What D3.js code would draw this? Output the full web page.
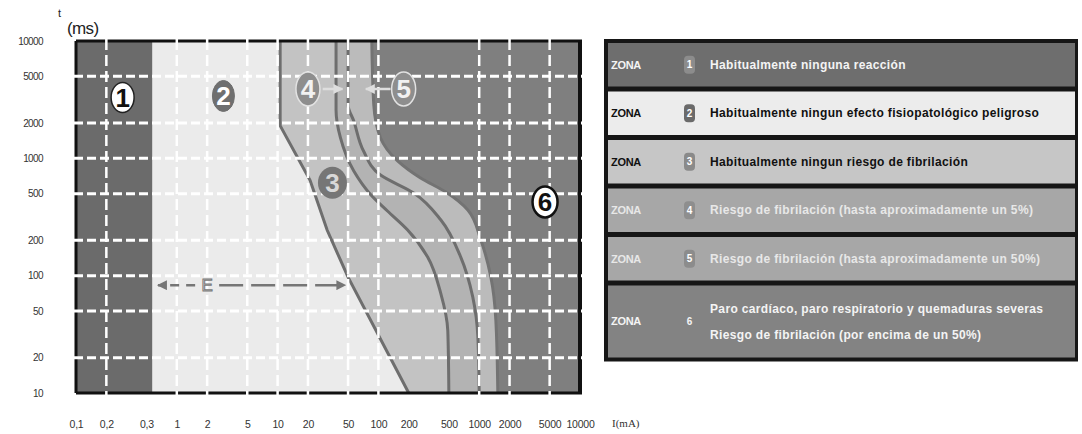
<!DOCTYPE html>
<html>
<head>
<meta charset="utf-8">
<script src="https://cdn.jsdelivr.net/npm/d3@7"></script>
<style>
  body { margin: 0; background: #fff; }
  svg { display: block; font-family: "Liberation Sans", Arial, sans-serif; }
  .axis text { font-family: "Liberation Sans", Arial, sans-serif; fill: #333; }
  .y-axis text { font-size: 10px; letter-spacing: -0.6px; }
  .x-axis text { font-size: 10.5px; letter-spacing: -0.2px; }
  .badge-text { font-weight: bold; font-size: 26px; text-anchor: middle; }
  .legend-text { font-weight: bold; font-size: 12px; letter-spacing: 0.35px; }
</style>
</head>
<body>
<svg id="chart" width="1082" height="434"></svg>
<script>
// axis ticks
const X_TICKS = [0.1, 0.2, 0.5, 1, 2, 5, 10, 20, 50, 100, 200, 500, 1000, 2000, 5000, 10000];
const X_LABELS = ["0,1", "0,2", "0,3", "1", "2", "5", "10", "20", "50", "100", "200", "500", "1000", "2000", "5000", "10000"];
const Y_TICKS = [10, 20, 50, 100, 200, 500, 1000, 2000, 5000, 10000];
const X_GRID = [0.2, 1, 2, 5, 10, 20, 50, 100, 1000, 2000, 5000];
const Y_GRID = [20, 50, 100, 200, 500, 1000, 2000, 5000];

// zone limits: [current mA, time ms]
const ZONE1_LIMIT = 0.57;
const CURVE_B = [[10.6, 10000], [10.6, 1900], [21, 650], [31, 245], [50, 97], [200, 10]];
const CURVE_C1 = [[38, 10000], [38, 2600], [42, 1500], [57, 780], [84, 490], [123, 356], [195, 245], [308, 144], [415, 71], [488, 34], [500, 10]];
const CURVE_C2 = [[50, 10000], [50, 2850], [57, 2080], [71, 1160], [105, 720], [224, 507], [415, 300], [656, 144], [863, 66], [970, 30], [1000, 10]];
const CURVE_C3 = [[86, 10000], [90, 2850], [105, 1490], [155, 950], [262, 680], [466, 517], [771, 363], [1038, 201], [1303, 98], [1462, 42], [1530, 10]];

// zone number badges inside the chart
const BADGE_LABELS = ["1", "2", "3", "4", "5", "6"];
const BADGE_I = [0.29, 2.9, 35, 20, 178, 4500];
const BADGE_T = [3300, 3400, 620, 3900, 3900, 425];

// arrows next to badges 4 and 5
const ARROW_FROM = [28, 132];
const ARROW_TO = [44, 75];
const ARROW_T = 3900;

// "E" arrow
const E_LABEL = "E";
const E_AT = 2;
const E_LEFT = 0.65;
const E_RIGHT = 47;
const E_T = 83;

// legend
const ZONE_WORD = "ZONA";
const LEGEND_NUMBERS = ["1", "2", "3", "4", "5", "6"];
const LEGEND_TEXTS = [
  ["Habitualmente ninguna reacción"],
  ["Habitualmente ningun efecto fisiopatológico peligroso"],
  ["Habitualmente ningun riesgo de fibrilación"],
  ["Riesgo de fibrilación (hasta aproximadamente un 5%)"],
  ["Riesgo de fibrilación (hasta aproximadamente un 50%)"],
  ["Paro cardíaco, paro respiratorio y quemaduras severas", "Riesgo de fibrilación (por encima de un 50%)"]
];

const ZONE_COLORS = ["#6b6b6b", "#ebebeb", "#c3c3c3", "#b3b3b3", "#bbbbbb", "#7f7f7f"];
const ROW_COLORS = ["#6e6e6e", "#ececec", "#c6c6c6", "#a7a7a7", "#a7a7a7", "#838383"];
const ROW_TEXT_COLORS = ["#f4f4f4", "#111", "#111", "#e8e8e8", "#e8e8e8", "#f4f4f4"];
const ROW_BADGE_COLORS = ["#8c8c8c", "#6a6a6a", "#8a8a8a", "#8e8e8e", "#8c8c8c", null];
const BADGE_STYLE = [
  { fill: "#fff", stroke: "#222", sw: 1.5, color: "#111", rx: 11.5, ry: 15 },
  { fill: "#6f6f6f", stroke: "#6f6f6f", sw: 1, color: "#fff", rx: 11, ry: 15.5 },
  { fill: "#767676", stroke: "none", sw: 0, color: "#d8d8d8", rx: 14.5, ry: 16 },
  { fill: "#8e8e8e", stroke: "#e2e2e2", sw: 1.5, color: "#f2f2f2", rx: 12, ry: 17 },
  { fill: "#8e8e8e", stroke: "#e2e2e2", sw: 1.5, color: "#f2f2f2", rx: 12, ry: 17 },
  { fill: "#fff", stroke: "#111", sw: 2.5, color: "#111", rx: 12.5, ry: 15.5 }
];

const svg = d3.select("#chart");

const x = d3.scaleLog().domain([0.1, 10000]).range([76, 580]);
const y = d3.scaleLog().domain([10, 10000]).range([393, 41]);
const [x0, x1] = x.range();
const [yBottom, yTop] = y.range();

const defs = svg.append("defs");
const addHead = (id, color) => defs.append("marker")
  .attr("id", id)
  .attr("viewBox", "0 0 10 10")
  .attr("refX", 9).attr("refY", 5)
  .attr("markerWidth", 4).attr("markerHeight", 4)
  .attr("markerUnits", "strokeWidth")
  .attr("orient", "auto-start-reverse")
  .append("path")
  .attr("d", "M0,0L10,5L0,10Z")
  .attr("fill", color);
addHead("head-light", "#dedede");
addHead("head-dark", "#767676");

const plot = svg.append("g");

// background = zone 6, then every zone is painted as the area left of its limit
plot.append("rect")
  .attr("x", x0).attr("y", yTop)
  .attr("width", x1 - x0).attr("height", yBottom - yTop)
  .attr("fill", ZONE_COLORS[5]);

const leftArea = interp => d3.area()
  .y(d => y(d[1]))
  .x0(x0)
  .x1(d => x(d[0]))
  .curve(interp);

const limits = [
  { pts: CURVE_C3, fill: ZONE_COLORS[4], curve: d3.curveMonotoneY, stroke: "#737373" },
  { pts: CURVE_C2, fill: ZONE_COLORS[3], curve: d3.curveMonotoneY, stroke: "#6e6e6e" },
  { pts: CURVE_C1, fill: ZONE_COLORS[2], curve: d3.curveMonotoneY, stroke: "#6e6e6e" },
  { pts: CURVE_B, fill: ZONE_COLORS[1], curve: d3.curveLinear, stroke: "#6e6e6e" }
];

limits.forEach(l => {
  plot.append("path")
    .attr("d", leftArea(l.curve)(l.pts))
    .attr("fill", l.fill);
});

plot.append("rect")
  .attr("x", x0).attr("y", yTop)
  .attr("width", x(ZONE1_LIMIT) - x0).attr("height", yBottom - yTop)
  .attr("fill", ZONE_COLORS[0]);

limits.forEach(l => {
  plot.append("path")
    .attr("d", d3.line().x(d => x(d[0])).y(d => y(d[1])).curve(l.curve)(l.pts))
    .attr("fill", "none")
    .attr("stroke", l.stroke)
    .attr("stroke-width", 3);
});

// frame
const frame = plot.append("g").attr("stroke", "#111").attr("fill", "none");
frame.append("line").attr("x1", x0).attr("x2", x0).attr("y1", yTop).attr("y2", yBottom).attr("stroke-width", 3);
frame.append("line").attr("x1", x1).attr("x2", x1).attr("y1", yTop).attr("y2", yBottom).attr("stroke-width", 4);
frame.append("line").attr("x1", x0).attr("x2", x1 + 2).attr("y1", yTop).attr("y2", yTop).attr("stroke-width", 3);
frame.append("line").attr("x1", x0).attr("x2", x1 + 2).attr("y1", yBottom).attr("y2", yBottom).attr("stroke-width", 3);

// dashed white grid
plot.append("g")
  .selectAll("line")
  .data(X_GRID)
  .enter()
  .append("line")
  .attr("x1", d => x(d)).attr("x2", d => x(d))
  .attr("y1", yTop - 2).attr("y2", yBottom + 2)
  .attr("stroke", "#fff")
  .attr("stroke-width", 2.5)
  .attr("stroke-dasharray", "11,5");

plot.append("g")
  .selectAll("line")
  .data(Y_GRID)
  .enter()
  .append("line")
  .attr("x1", x0 - 2).attr("x2", x1 + 2)
  .attr("y1", d => y(d)).attr("y2", d => y(d))
  .attr("stroke", "#fff")
  .attr("stroke-width", 3)
  .attr("stroke-dasharray", "9,4");

// E arrow
const eY = y(E_T);
[E_LEFT, E_RIGHT].forEach((end, i) => {
  plot.append("line")
    .attr("x1", x(E_AT) + (i ? 12 : -12)).attr("x2", x(end))
    .attr("y1", eY).attr("y2", eY)
    .attr("stroke", "#767676")
    .attr("stroke-width", 2.5)
    .attr("stroke-dasharray", i ? "24,8" : "9,7")
    .attr("marker-end", "url(#head-dark)");
});
plot.append("text")
  .attr("x", x(E_AT)).attr("y", eY)
  .attr("dy", "0.36em")
  .attr("text-anchor", "middle")
  .attr("font-size", 17)
  .attr("fill", "#e4e4e4")
  .attr("stroke", "#7a7a7a")
  .attr("stroke-width", 1)
  .text(E_LABEL);

// arrows for 4 and 5
ARROW_FROM.forEach((from, i) => {
  plot.append("line")
    .attr("x1", x(from)).attr("x2", x(ARROW_TO[i]))
    .attr("y1", y(ARROW_T)).attr("y2", y(ARROW_T))
    .attr("stroke", "#dedede")
    .attr("stroke-width", 2.5)
    .attr("marker-end", "url(#head-light)");
});

// zone badges
const badge = plot.append("g")
  .selectAll("g")
  .data(BADGE_LABELS)
  .enter()
  .append("g")
  .attr("transform", (d, i) => `translate(${x(BADGE_I[i])},${y(BADGE_T[i])})`);

badge.append("ellipse")
  .attr("rx", (d, i) => BADGE_STYLE[i].rx)
  .attr("ry", (d, i) => BADGE_STYLE[i].ry)
  .attr("fill", (d, i) => BADGE_STYLE[i].fill)
  .attr("stroke", (d, i) => BADGE_STYLE[i].stroke)
  .attr("stroke-width", (d, i) => BADGE_STYLE[i].sw);

badge.append("text")
  .attr("class", "badge-text")
  .attr("dy", "0.36em")
  .attr("fill", (d, i) => BADGE_STYLE[i].color)
  .text(d => d);

// axes
svg.append("g")
  .attr("class", "axis y-axis")
  .attr("transform", `translate(${x0 - 32},0)`)
  .call(d3.axisLeft(y).tickValues(Y_TICKS).tickSize(0).tickPadding(1).tickFormat(d3.format("d")))
  .call(g => g.select(".domain").remove());

svg.append("g")
  .attr("class", "axis x-axis")
  .attr("transform", `translate(0,${yBottom})`)
  .call(d3.axisBottom(x).tickValues(X_TICKS).tickSize(0).tickPadding(28).tickFormat((d, i) => X_LABELS[i]))
  .call(g => g.select(".domain").remove());

svg.append("text")
  .attr("x", 58).attr("y", 17)
  .attr("font-size", 11)
  .attr("fill", "#222")
  .text("t");
svg.append("text")
  .attr("x", 67).attr("y", 34)
  .attr("font-size", 17)
  .attr("letter-spacing", -0.6)
  .attr("fill", "#222")
  .text("(ms)");
svg.append("text")
  .attr("x", 612).attr("y", 427)
  .attr("font-family", "'Liberation Serif', 'DejaVu Serif', serif")
  .attr("font-size", 11)
  .attr("fill", "#333")
  .text("I(mA)");

// legend table
const ROW_H = 43.5, ROW_H2 = 72, ROW_GAP = 5, TABLE_X = 604, TABLE_W = 474, TABLE_Y = 43;
const rowTops = [];
LEGEND_TEXTS.reduce((top, lines) => {
  rowTops.push(top);
  return top + (lines.length > 1 ? ROW_H2 : ROW_H) + ROW_GAP;
}, TABLE_Y);
const tableBottom = rowTops[rowTops.length - 1] + ROW_H2;

const legend = svg.append("g");
legend.append("rect")
  .attr("x", TABLE_X).attr("y", TABLE_Y - 4)
  .attr("width", TABLE_W).attr("height", tableBottom - TABLE_Y + 8)
  .attr("fill", "#161616");

const row = legend.selectAll("g.row")
  .data(LEGEND_TEXTS)
  .enter()
  .append("g")
  .attr("class", "row")
  .attr("transform", (d, i) => `translate(${TABLE_X + 4},${rowTops[i]})`);

row.append("rect")
  .attr("width", TABLE_W - 7)
  .attr("height", d => d.length > 1 ? ROW_H2 : ROW_H)
  .attr("fill", (d, i) => ROW_COLORS[i]);

const rowMid = d => (d.length > 1 ? ROW_H2 : ROW_H) / 2;

row.append("text")
  .attr("class", "legend-text")
  .attr("x", 3)
  .attr("y", rowMid)
  .attr("dy", "0.35em")
  .style("font-size", "11px")
  .style("letter-spacing", "-0.3px")
  .attr("fill", (d, i) => ROW_TEXT_COLORS[i])
  .text(ZONE_WORD);

row.filter((d, i) => ROW_BADGE_COLORS[i])
  .append("rect")
  .attr("x", 76).attr("y", d => rowMid(d) - 9)
  .attr("width", 11).attr("height", 18)
  .attr("rx", 4)
  .attr("fill", d => ROW_BADGE_COLORS[LEGEND_TEXTS.indexOf(d)]);

row.append("text")
  .attr("class", "legend-text")
  .attr("x", 81.5)
  .attr("y", rowMid)
  .attr("dy", "0.35em")
  .attr("text-anchor", "middle")
  .style("font-size", "10px")
  .style("letter-spacing", "0")
  .attr("fill", (d, i) => i === 5 ? ROW_TEXT_COLORS[i] : "#fff")
  .text((d, i) => LEGEND_NUMBERS[i]);

row.selectAll("text.desc")
  .data((d, i) => d.map(line => ({ line, i, n: d.length })))
  .enter()
  .append("text")
  .attr("class", "legend-text desc")
  .attr("x", 102)
  .attr("y", (d, j) => (d.n > 1 ? ROW_H2 : ROW_H) / 2 + (d.n > 1 ? (j ? 13 : -13) : 0))
  .attr("dy", "0.35em")
  .attr("fill", d => ROW_TEXT_COLORS[d.i])
  .text(d => d.line);
</script>
</body>
</html>
